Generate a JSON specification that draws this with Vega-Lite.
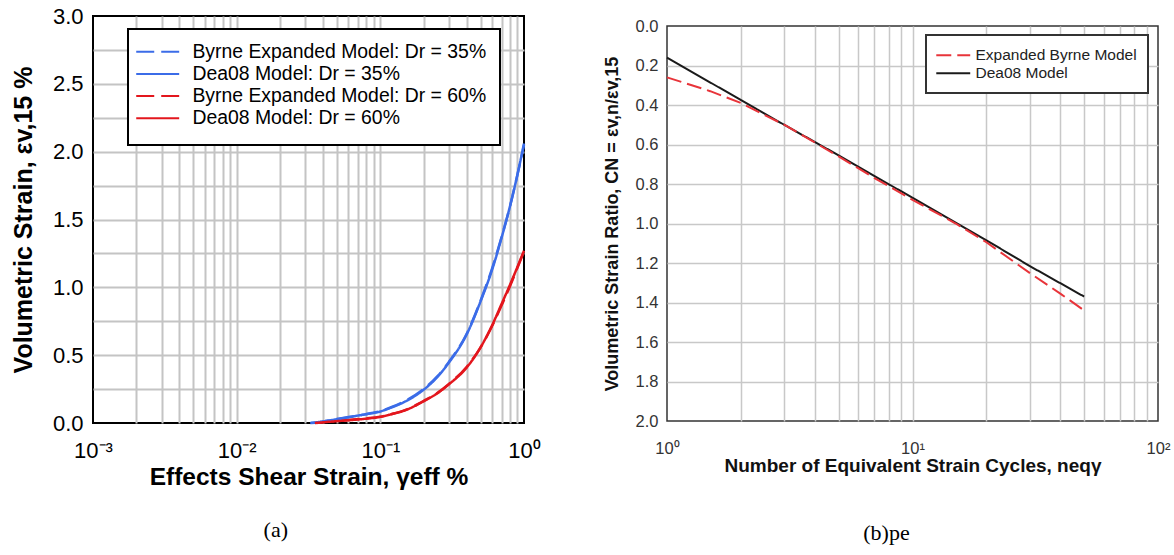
{
  "$schema": "https://vega.github.io/schema/vega-lite/v6.json",
  "background": "white",
  "padding": {"left": 10, "top": 4, "right": 0, "bottom": 0},
  "spacing": 60,
  "config": {
    "font": "Liberation Sans",
    "axis": {"domain": false, "ticks": false, "labelFlush": false, "labelOverlap": false},
    "legend": {"strokeWidth": 2, "cornerRadius": 0}
  },
  "resolve": {
    "scale": {"color": "independent", "strokeDash": "independent"},
    "legend": {"color": "independent", "strokeDash": "independent"}
  },
  "datasets": {
    "left": [
      {"series": "Byrne Expanded Model: Dr = 35%", "x": 0.033, "y": 0},
      {"series": "Byrne Expanded Model: Dr = 35%", "x": 0.04, "y": 0.01},
      {"series": "Byrne Expanded Model: Dr = 35%", "x": 0.05, "y": 0.03},
      {"series": "Byrne Expanded Model: Dr = 35%", "x": 0.06, "y": 0.044},
      {"series": "Byrne Expanded Model: Dr = 35%", "x": 0.07, "y": 0.054},
      {"series": "Byrne Expanded Model: Dr = 35%", "x": 0.08, "y": 0.066},
      {"series": "Byrne Expanded Model: Dr = 35%", "x": 0.1, "y": 0.088},
      {"series": "Byrne Expanded Model: Dr = 35%", "x": 0.12, "y": 0.118},
      {"series": "Byrne Expanded Model: Dr = 35%", "x": 0.15, "y": 0.165},
      {"series": "Byrne Expanded Model: Dr = 35%", "x": 0.2, "y": 0.25},
      {"series": "Byrne Expanded Model: Dr = 35%", "x": 0.25, "y": 0.345},
      {"series": "Byrne Expanded Model: Dr = 35%", "x": 0.3, "y": 0.45},
      {"series": "Byrne Expanded Model: Dr = 35%", "x": 0.4, "y": 0.66},
      {"series": "Byrne Expanded Model: Dr = 35%", "x": 0.5, "y": 0.905},
      {"series": "Byrne Expanded Model: Dr = 35%", "x": 0.6, "y": 1.14},
      {"series": "Byrne Expanded Model: Dr = 35%", "x": 0.7, "y": 1.375},
      {"series": "Byrne Expanded Model: Dr = 35%", "x": 0.8, "y": 1.6},
      {"series": "Byrne Expanded Model: Dr = 35%", "x": 0.9, "y": 1.83},
      {"series": "Byrne Expanded Model: Dr = 35%", "x": 1.0, "y": 2.05},
      {"series": "Byrne Expanded Model: Dr = 60%", "x": 0.036, "y": 0},
      {"series": "Byrne Expanded Model: Dr = 60%", "x": 0.045, "y": 0.012},
      {"series": "Byrne Expanded Model: Dr = 60%", "x": 0.06, "y": 0.022},
      {"series": "Byrne Expanded Model: Dr = 60%", "x": 0.08, "y": 0.034},
      {"series": "Byrne Expanded Model: Dr = 60%", "x": 0.1, "y": 0.047},
      {"series": "Byrne Expanded Model: Dr = 60%", "x": 0.12, "y": 0.066},
      {"series": "Byrne Expanded Model: Dr = 60%", "x": 0.15, "y": 0.097},
      {"series": "Byrne Expanded Model: Dr = 60%", "x": 0.2, "y": 0.162},
      {"series": "Byrne Expanded Model: Dr = 60%", "x": 0.25, "y": 0.222},
      {"series": "Byrne Expanded Model: Dr = 60%", "x": 0.3, "y": 0.288},
      {"series": "Byrne Expanded Model: Dr = 60%", "x": 0.4, "y": 0.415},
      {"series": "Byrne Expanded Model: Dr = 60%", "x": 0.5, "y": 0.56},
      {"series": "Byrne Expanded Model: Dr = 60%", "x": 0.6, "y": 0.715},
      {"series": "Byrne Expanded Model: Dr = 60%", "x": 0.7, "y": 0.87},
      {"series": "Byrne Expanded Model: Dr = 60%", "x": 0.8, "y": 1.01},
      {"series": "Byrne Expanded Model: Dr = 60%", "x": 0.9, "y": 1.145},
      {"series": "Byrne Expanded Model: Dr = 60%", "x": 1.0, "y": 1.265},
      {"series": "Dea08 Model: Dr = 35%", "x": 0.0325, "y": 0},
      {"series": "Dea08 Model: Dr = 35%", "x": 0.04, "y": 0.012},
      {"series": "Dea08 Model: Dr = 35%", "x": 0.05, "y": 0.028},
      {"series": "Dea08 Model: Dr = 35%", "x": 0.06, "y": 0.042},
      {"series": "Dea08 Model: Dr = 35%", "x": 0.07, "y": 0.055},
      {"series": "Dea08 Model: Dr = 35%", "x": 0.08, "y": 0.065},
      {"series": "Dea08 Model: Dr = 35%", "x": 0.1, "y": 0.085},
      {"series": "Dea08 Model: Dr = 35%", "x": 0.12, "y": 0.115},
      {"series": "Dea08 Model: Dr = 35%", "x": 0.15, "y": 0.16},
      {"series": "Dea08 Model: Dr = 35%", "x": 0.2, "y": 0.245},
      {"series": "Dea08 Model: Dr = 35%", "x": 0.25, "y": 0.34},
      {"series": "Dea08 Model: Dr = 35%", "x": 0.3, "y": 0.445},
      {"series": "Dea08 Model: Dr = 35%", "x": 0.4, "y": 0.655},
      {"series": "Dea08 Model: Dr = 35%", "x": 0.5, "y": 0.9},
      {"series": "Dea08 Model: Dr = 35%", "x": 0.6, "y": 1.13},
      {"series": "Dea08 Model: Dr = 35%", "x": 0.7, "y": 1.37},
      {"series": "Dea08 Model: Dr = 35%", "x": 0.8, "y": 1.6},
      {"series": "Dea08 Model: Dr = 35%", "x": 0.9, "y": 1.83},
      {"series": "Dea08 Model: Dr = 35%", "x": 1.0, "y": 2.06},
      {"series": "Dea08 Model: Dr = 60%", "x": 0.035, "y": 0},
      {"series": "Dea08 Model: Dr = 60%", "x": 0.045, "y": 0.01},
      {"series": "Dea08 Model: Dr = 60%", "x": 0.06, "y": 0.02},
      {"series": "Dea08 Model: Dr = 60%", "x": 0.08, "y": 0.032},
      {"series": "Dea08 Model: Dr = 60%", "x": 0.1, "y": 0.045},
      {"series": "Dea08 Model: Dr = 60%", "x": 0.12, "y": 0.065},
      {"series": "Dea08 Model: Dr = 60%", "x": 0.15, "y": 0.095},
      {"series": "Dea08 Model: Dr = 60%", "x": 0.2, "y": 0.16},
      {"series": "Dea08 Model: Dr = 60%", "x": 0.25, "y": 0.22},
      {"series": "Dea08 Model: Dr = 60%", "x": 0.3, "y": 0.285},
      {"series": "Dea08 Model: Dr = 60%", "x": 0.4, "y": 0.41},
      {"series": "Dea08 Model: Dr = 60%", "x": 0.5, "y": 0.56},
      {"series": "Dea08 Model: Dr = 60%", "x": 0.6, "y": 0.72},
      {"series": "Dea08 Model: Dr = 60%", "x": 0.7, "y": 0.88},
      {"series": "Dea08 Model: Dr = 60%", "x": 0.8, "y": 1.02},
      {"series": "Dea08 Model: Dr = 60%", "x": 0.9, "y": 1.15},
      {"series": "Dea08 Model: Dr = 60%", "x": 1.0, "y": 1.27}
    ],
    "right": [
      {"model": "Dea08 Model", "n": 1, "cn": 0.16},
      {"model": "Dea08 Model", "n": 2, "cn": 0.375},
      {"model": "Dea08 Model", "n": 3, "cn": 0.5},
      {"model": "Dea08 Model", "n": 5, "cn": 0.655},
      {"model": "Dea08 Model", "n": 10, "cn": 0.87},
      {"model": "Dea08 Model", "n": 20, "cn": 1.085},
      {"model": "Dea08 Model", "n": 30, "cn": 1.215},
      {"model": "Dea08 Model", "n": 50, "cn": 1.37},
      {"model": "Expanded Byrne Model", "n": 1, "cn": 0.26},
      {"model": "Expanded Byrne Model", "n": 1.5, "cn": 0.33},
      {"model": "Expanded Byrne Model", "n": 2, "cn": 0.39},
      {"model": "Expanded Byrne Model", "n": 3, "cn": 0.5},
      {"model": "Expanded Byrne Model", "n": 5, "cn": 0.66},
      {"model": "Expanded Byrne Model", "n": 7, "cn": 0.77},
      {"model": "Expanded Byrne Model", "n": 10, "cn": 0.88},
      {"model": "Expanded Byrne Model", "n": 15, "cn": 1.0},
      {"model": "Expanded Byrne Model", "n": 20, "cn": 1.095},
      {"model": "Expanded Byrne Model", "n": 30, "cn": 1.25},
      {"model": "Expanded Byrne Model", "n": 40, "cn": 1.355},
      {"model": "Expanded Byrne Model", "n": 50, "cn": 1.44}
    ],
    "empty": []
  },
  "hconcat": [
    {
      "title": {"text": "(a)", "orient": "bottom", "anchor": "middle", "frame": "bounds", "font": "Liberation Serif", "fontSize": 22, "fontWeight": "normal", "color": "black", "offset": 31},
      "width": 431,
      "height": 407,
      "view": {"stroke": "black", "strokeWidth": 2},
      "data": {"name": "left"},
      "mark": {"type": "line", "strokeWidth": 2.5, "interpolate": "monotone"},
      "encoding": {
        "x": {
          "field": "x", "type": "quantitative",
          "scale": {"type": "log", "domain": [0.001, 1]},
          "axis": {
            "values": [0.001, 0.002, 0.003, 0.004, 0.005, 0.006, 0.007, 0.008, 0.009, 0.01, 0.02, 0.03, 0.04, 0.05, 0.06, 0.07, 0.08, 0.09, 0.1, 0.2, 0.3, 0.4, 0.5, 0.6, 0.7, 0.8, 0.9, 1],
            "labelExpr": "datum.value == 0.001 ? '10⁻³' : datum.value == 0.01 ? '10⁻²' : datum.value == 0.1 ? '10⁻¹' : datum.value == 1 ? '10⁰' : ''",
            "labelFontSize": 22, "labelColor": "black", "labelPadding": 17,
            "title": "Effects Shear Strain, γeff %", "titleFontSize": 24.5, "titleFontWeight": "bold", "titleColor": "black", "titlePadding": 4,
            "gridColor": {"condition": {"test": "datum.value == 0.001 || datum.value == 1", "value": "rgba(0,0,0,0)"}, "value": "#c4c4c4"},
            "gridWidth": 2
          }
        },
        "y": {
          "field": "y", "type": "quantitative",
          "scale": {"domain": [0, 3]},
          "axis": {
            "values": [0, 0.25, 0.5, 0.75, 1, 1.25, 1.5, 1.75, 2, 2.25, 2.5, 2.75, 3],
            "labelExpr": "datum.value % 0.5 == 0 ? format(datum.value, '.1f') : ''",
            "labelFontSize": 22, "labelColor": "black", "labelPadding": 10,
            "title": "Volumetric Strain, εv,15 %", "titleFontSize": 25, "titleFontWeight": "bold", "titleColor": "black", "titlePadding": 16,
            "gridColor": {"condition": {"test": "datum.value == 0 || datum.value == 3", "value": "rgba(0,0,0,0)"}, "value": "#c4c4c4"},
            "gridWidth": 2
          }
        },
        "color": {
          "field": "series", "type": "nominal",
          "scale": {"domain": ["Byrne Expanded Model: Dr = 35%", "Dea08 Model: Dr = 35%", "Byrne Expanded Model: Dr = 60%", "Dea08 Model: Dr = 60%"], "range": ["#3b6ce8", "#3b6ce8", "#e3161d", "#e3161d"]},
          "legend": {
            "title": " ", "titleOrient": "bottom", "titleFontSize": 4, "titlePadding": 0,
            "orient": "none", "legendX": 35, "legendY": 13,
            "symbolType": "M-3,0H3", "symbolSize": 205, "symbolStrokeWidth": 2, "symbolOffset": 7,
            "labelFontSize": 19.4, "labelFont": "Liberation Sans", "labelColor": "black", "labelOffset": 25, "labelLimit": 400,
            "padding": 13, "rowPadding": 1.2,
            "strokeColor": "black", "fillColor": "white"
          }
        },
        "strokeDash": {
          "field": "series", "type": "nominal",
          "scale": {"domain": ["Byrne Expanded Model: Dr = 35%", "Dea08 Model: Dr = 35%", "Byrne Expanded Model: Dr = 60%", "Dea08 Model: Dr = 60%"], "range": [[18, 7], [1, 0], [18, 7], [1, 0]]}
        }
      }
    },
    {
      "title": {"text": "(b)pe", "orient": "bottom", "anchor": "middle", "frame": "bounds", "font": "Liberation Serif", "fontSize": 22, "fontWeight": "normal", "color": "black", "offset": 47},
      "spacing": 0,
      "resolve": {
        "scale": {"color": "independent", "strokeDash": "independent"},
        "legend": {"color": "independent", "strokeDash": "independent"}
      },
      "vconcat": [
        {
          "width": 491,
          "height": 1,
          "view": {"stroke": null},
          "data": {"name": "empty"},
          "mark": {"type": "point"},
          "encoding": {}
        },
        {
          "width": 491,
          "height": 395,
          "view": {"stroke": "#333333", "strokeWidth": 1.5},
          "data": {"name": "right"},
          "mark": {"type": "line", "strokeWidth": 2},
          "encoding": {
            "x": {
              "field": "n", "type": "quantitative",
              "scale": {"type": "log", "domain": [1, 100]},
              "axis": {
                "values": [1, 2, 3, 4, 5, 6, 7, 8, 9, 10, 20, 30, 40, 50, 60, 70, 80, 90, 100],
                "labelExpr": "datum.value == 1 ? '10⁰' : datum.value == 10 ? '10¹' : datum.value == 100 ? '10²' : ''",
                "labelFontSize": 16.5, "labelColor": "#333333", "labelPadding": 19,
                "title": "Number of Equivalent Strain Cycles, neqγ", "titleFontSize": 19, "titleFontWeight": "bold", "titleColor": "#111111", "titlePadding": 0,
                "gridColor": {"condition": {"test": "datum.value == 1 || datum.value == 100", "value": "rgba(0,0,0,0)"}, "value": "#c8c8c8"},
                "gridWidth": 1.5
              }
            },
            "y": {
              "field": "cn", "type": "quantitative",
              "scale": {"domain": [0, 2], "reverse": true},
              "axis": {
                "values": [0, 0.2, 0.4, 0.6, 0.8, 1, 1.2, 1.4, 1.6, 1.8, 2],
                "format": ".1f",
                "labelFontSize": 16.5, "labelColor": "#333333", "labelPadding": 9,
                "title": "Volumetric Strain Ratio, CN = εv,n/εv,15", "titleFontSize": 18, "titleFontWeight": "bold", "titleColor": "#111111", "titlePadding": 14,
                "gridColor": {"condition": {"test": "datum.value == 0 || datum.value == 2", "value": "rgba(0,0,0,0)"}, "value": "#c8c8c8"},
                "gridWidth": 1.5
              }
            },
            "color": {
              "field": "model", "type": "nominal",
              "scale": {"domain": ["Expanded Byrne Model", "Dea08 Model"], "range": ["#e8343a", "#1a1a1a"]},
              "legend": {
                "title": " ", "titleOrient": "top", "titleFontSize": 2, "titlePadding": 0,
                "orient": "none", "legendX": 259, "legendY": 9,
                "symbolType": "M-3,0H3", "symbolSize": 128, "symbolStrokeWidth": 2, "symbolOffset": 9,
                "labelFontSize": 15.5, "labelFont": "Liberation Sans", "labelColor": "#222222", "labelOffset": 14.5, "labelLimit": 400,
                "padding": 10.5, "rowPadding": 1,
                "strokeColor": "#333333", "fillColor": "white"
              }
            },
            "strokeDash": {
              "field": "model", "type": "nominal",
              "scale": {"domain": ["Expanded Byrne Model", "Dea08 Model"], "range": [[15, 6], [1, 0]]}
            }
          }
        }
      ]
    }
  ]
}
